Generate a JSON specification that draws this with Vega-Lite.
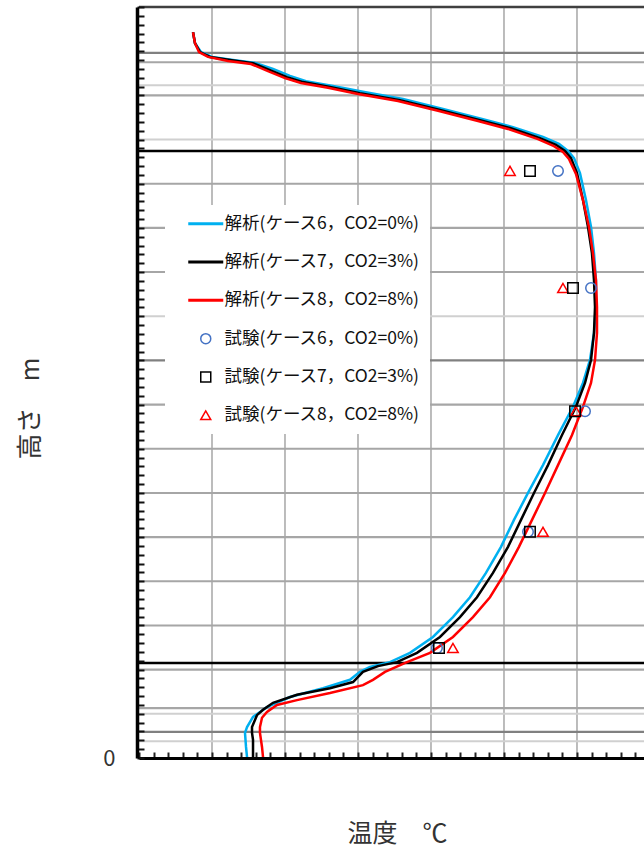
{
 "$schema": "https://vega.github.io/schema/vega-lite/v6.json",
 "width": 505, "height": 751,
 "autosize": {"type": "none"},
 "padding": {"left": 139, "top": 7, "right": 0, "bottom": 92},
 "background": "white",
 "config": {"font": "Noto Sans CJK JP", "view": {"stroke": null}},
 "datasets": {
  "vgrid": [{"t":100},{"t":200},{"t":300},{"t":400},{"t":500},{"t":600}],
  "hgrid": [
   {"h":17,"kind":"frame"},{"h":15.96,"kind":"dark"},{"h":15.75,"kind":"grid"},{"h":15.23,"kind":"light"},
   {"h":15,"kind":"grid"},{"h":14,"kind":"light"},{"h":13.74,"kind":"floor"},{"h":13,"kind":"grid"},
   {"h":12,"kind":"grid"},{"h":11,"kind":"grid"},{"h":10,"kind":"light"},{"h":9,"kind":"dark"},
   {"h":8,"kind":"grid"},{"h":7,"kind":"grid"},{"h":6,"kind":"grid"},{"h":5,"kind":"grid"},
   {"h":4,"kind":"grid"},{"h":3,"kind":"grid"},{"h":2.15,"kind":"floor"},{"h":2,"kind":"grid"},
   {"h":1.13,"kind":"grid"},{"h":1,"kind":"light"},{"h":0.59,"kind":"dark"},{"h":0.38,"kind":"light"}
  ],
  "lines": [
   {"s":"解析(ケース6，CO2=0%)","t":74.0,"h":16.43},{"s":"解析(ケース6，CO2=0%)","t":76.7,"h":16.18},{"s":"解析(ケース6，CO2=0%)","t":84.9,"h":15.98},{"s":"解析(ケース6，CO2=0%)","t":100.0,"h":15.87},{"s":"解析(ケース6，CO2=0%)","t":128.8,"h":15.80},{"s":"解析(ケース6，CO2=0%)","t":160.3,"h":15.73},{"s":"解析(ケース6，CO2=0%)","t":183.6,"h":15.60},{"s":"解析(ケース6，CO2=0%)","t":206.8,"h":15.44},{"s":"解析(ケース6，CO2=0%)","t":228.8,"h":15.32},{"s":"解析(ケース6，CO2=0%)","t":265.8,"h":15.21},{"s":"解析(ケース6，CO2=0%)","t":306.8,"h":15.08},{"s":"解析(ケース6，CO2=0%)","t":361.6,"h":14.92},{"s":"解析(ケース6，CO2=0%)","t":416.4,"h":14.69},{"s":"解析(ケース6，CO2=0%)","t":471.2,"h":14.46},{"s":"解析(ケース6，CO2=0%)","t":512.3,"h":14.28},{"s":"解析(ケース6，CO2=0%)","t":553.4,"h":14.06},{"s":"解析(ケース6，CO2=0%)","t":575.3,"h":13.90},{"s":"解析(ケース6，CO2=0%)","t":587.7,"h":13.74},{"s":"解析(ケース6，CO2=0%)","t":595.9,"h":13.58},{"s":"解析(ケース6，CO2=0%)","t":604.1,"h":13.24},{"s":"解析(ケース6，CO2=0%)","t":612.3,"h":12.63},{"s":"解析(ケース6，CO2=0%)","t":619.2,"h":12.02},{"s":"解析(ケース6，CO2=0%)","t":623.3,"h":11.43},{"s":"解析(ケース6，CO2=0%)","t":626.0,"h":10.82},{"s":"解析(ケース6，CO2=0%)","t":626.0,"h":10.21},{"s":"解析(ケース6，CO2=0%)","t":623.3,"h":9.62},{"s":"解析(ケース6，CO2=0%)","t":617.8,"h":9.01},{"s":"解析(ケース6，CO2=0%)","t":608.2,"h":8.49},{"s":"解析(ケース6，CO2=0%)","t":594.5,"h":7.95},{"s":"解析(ケース6，CO2=0%)","t":574.0,"h":7.31},{"s":"解析(ケース6，CO2=0%)","t":553.4,"h":6.63},{"s":"解析(ケース6，CO2=0%)","t":532.9,"h":6.00},{"s":"解析(ケース6，CO2=0%)","t":513.7,"h":5.39},{"s":"解析(ケース6，CO2=0%)","t":495.9,"h":4.78},{"s":"解析(ケース6，CO2=0%)","t":475.3,"h":4.19},{"s":"解析(ケース6，CO2=0%)","t":453.4,"h":3.64},{"s":"解析(ケース6，CO2=0%)","t":430.1,"h":3.19},{"s":"解析(ケース6，CO2=0%)","t":402.7,"h":2.74},{"s":"解析(ケース6，CO2=0%)","t":371.2,"h":2.38},{"s":"解析(ケース6，CO2=0%)","t":343.8,"h":2.17},{"s":"解析(ケース6，CO2=0%)","t":316.4,"h":2.06},{"s":"解析(ケース6，CO2=0%)","t":302.7,"h":1.95},{"s":"解析(ケース6，CO2=0%)","t":289.0,"h":1.77},{"s":"解析(ケース6，CO2=0%)","t":252.1,"h":1.58},{"s":"解析(ケース6，CO2=0%)","t":206.8,"h":1.38},{"s":"解析(ケース6，CO2=0%)","t":175.3,"h":1.15},{"s":"解析(ケース6，CO2=0%)","t":156.2,"h":0.93},{"s":"解析(ケース6，CO2=0%)","t":148.0,"h":0.70},{"s":"解析(ケース6，CO2=0%)","t":145.2,"h":0.57},{"s":"解析(ケース6，CO2=0%)","t":146.6,"h":0.25},{"s":"解析(ケース6，CO2=0%)","t":148.0,"h":0.02},
   {"s":"解析(ケース7，CO2=3%)","t":74.0,"h":16.43},{"s":"解析(ケース7，CO2=3%)","t":76.7,"h":16.18},{"s":"解析(ケース7，CO2=3%)","t":83.6,"h":15.98},{"s":"解析(ケース7，CO2=3%)","t":97.3,"h":15.87},{"s":"解析(ケース7，CO2=3%)","t":124.7,"h":15.80},{"s":"解析(ケース7，CO2=3%)","t":156.2,"h":15.73},{"s":"解析(ケース7，CO2=3%)","t":179.5,"h":15.57},{"s":"解析(ケース7，CO2=3%)","t":202.7,"h":15.41},{"s":"解析(ケース7，CO2=3%)","t":224.7,"h":15.30},{"s":"解析(ケース7，CO2=3%)","t":261.6,"h":15.19},{"s":"解析(ケース7，CO2=3%)","t":302.7,"h":15.05},{"s":"解析(ケース7，CO2=3%)","t":357.5,"h":14.89},{"s":"解析(ケース7，CO2=3%)","t":412.3,"h":14.67},{"s":"解析(ケース7，CO2=3%)","t":467.1,"h":14.44},{"s":"解析(ケース7，CO2=3%)","t":508.2,"h":14.26},{"s":"解析(ケース7，CO2=3%)","t":549.3,"h":14.03},{"s":"解析(ケース7，CO2=3%)","t":571.2,"h":13.88},{"s":"解析(ケース7，CO2=3%)","t":583.6,"h":13.74},{"s":"解析(ケース7，CO2=3%)","t":591.8,"h":13.58},{"s":"解析(ケース7，CO2=3%)","t":600.0,"h":13.24},{"s":"解析(ケース7，CO2=3%)","t":608.2,"h":12.63},{"s":"解析(ケース7，CO2=3%)","t":615.1,"h":12.02},{"s":"解析(ケース7，CO2=3%)","t":620.5,"h":11.43},{"s":"解析(ケース7，CO2=3%)","t":623.3,"h":10.82},{"s":"解析(ケース7，CO2=3%)","t":624.7,"h":10.21},{"s":"解析(ケース7，CO2=3%)","t":623.3,"h":9.62},{"s":"解析(ケース7，CO2=3%)","t":619.2,"h":9.01},{"s":"解析(ケース7，CO2=3%)","t":611.0,"h":8.49},{"s":"解析(ケース7，CO2=3%)","t":598.6,"h":7.95},{"s":"解析(ケース7，CO2=3%)","t":579.5,"h":7.31},{"s":"解析(ケース7，CO2=3%)","t":560.3,"h":6.63},{"s":"解析(ケース7，CO2=3%)","t":541.1,"h":6.00},{"s":"解析(ケース7，CO2=3%)","t":523.3,"h":5.39},{"s":"解析(ケース7，CO2=3%)","t":505.5,"h":4.78},{"s":"解析(ケース7，CO2=3%)","t":484.9,"h":4.19},{"s":"解析(ケース7，CO2=3%)","t":463.0,"h":3.64},{"s":"解析(ケース7，CO2=3%)","t":439.7,"h":3.19},{"s":"解析(ケース7，CO2=3%)","t":412.3,"h":2.74},{"s":"解析(ケース7，CO2=3%)","t":380.8,"h":2.38},{"s":"解析(ケース7，CO2=3%)","t":353.4,"h":2.17},{"s":"解析(ケース7，CO2=3%)","t":327.4,"h":2.08},{"s":"解析(ケース7，CO2=3%)","t":306.8,"h":1.95},{"s":"解析(ケース7，CO2=3%)","t":293.2,"h":1.72},{"s":"解析(ケース7，CO2=3%)","t":261.6,"h":1.58},{"s":"解析(ケース7，CO2=3%)","t":216.4,"h":1.43},{"s":"解析(ケース7，CO2=3%)","t":183.6,"h":1.25},{"s":"解析(ケース7，CO2=3%)","t":169.9,"h":1.09},{"s":"解析(ケース7，CO2=3%)","t":161.6,"h":0.97},{"s":"解析(ケース7，CO2=3%)","t":154.8,"h":0.70},{"s":"解析(ケース7，CO2=3%)","t":154.8,"h":0.57},{"s":"解析(ケース7，CO2=3%)","t":156.2,"h":0.41},{"s":"解析(ケース7，CO2=3%)","t":156.2,"h":0.02},
   {"s":"解析(ケース8，CO2=8%)","t":74.0,"h":16.43},{"s":"解析(ケース8，CO2=8%)","t":76.7,"h":16.18},{"s":"解析(ケース8，CO2=8%)","t":82.2,"h":15.98},{"s":"解析(ケース8，CO2=8%)","t":94.5,"h":15.87},{"s":"解析(ケース8，CO2=8%)","t":121.9,"h":15.78},{"s":"解析(ケース8，CO2=8%)","t":153.4,"h":15.71},{"s":"解析(ケース8，CO2=8%)","t":176.7,"h":15.55},{"s":"解析(ケース8，CO2=8%)","t":200.0,"h":15.39},{"s":"解析(ケース8，CO2=8%)","t":221.9,"h":15.28},{"s":"解析(ケース8，CO2=8%)","t":258.9,"h":15.17},{"s":"解析(ケース8，CO2=8%)","t":300.0,"h":15.03},{"s":"解析(ケース8，CO2=8%)","t":354.8,"h":14.87},{"s":"解析(ケース8，CO2=8%)","t":409.6,"h":14.65},{"s":"解析(ケース8，CO2=8%)","t":464.4,"h":14.42},{"s":"解析(ケース8，CO2=8%)","t":505.5,"h":14.24},{"s":"解析(ケース8，CO2=8%)","t":546.6,"h":14.01},{"s":"解析(ケース8，CO2=8%)","t":568.5,"h":13.85},{"s":"解析(ケース8，CO2=8%)","t":580.8,"h":13.72},{"s":"解析(ケース8，CO2=8%)","t":589.0,"h":13.56},{"s":"解析(ケース8，CO2=8%)","t":598.6,"h":13.22},{"s":"解析(ケース8，CO2=8%)","t":608.2,"h":12.63},{"s":"解析(ケース8，CO2=8%)","t":616.4,"h":12.02},{"s":"解析(ケース8，CO2=8%)","t":621.9,"h":11.43},{"s":"解析(ケース8，CO2=8%)","t":626.0,"h":10.82},{"s":"解析(ケース8，CO2=8%)","t":627.4,"h":10.21},{"s":"解析(ケース8，CO2=8%)","t":627.4,"h":9.62},{"s":"解析(ケース8，CO2=8%)","t":624.7,"h":9.01},{"s":"解析(ケース8，CO2=8%)","t":619.2,"h":8.49},{"s":"解析(ケース8，CO2=8%)","t":608.2,"h":7.95},{"s":"解析(ケース8，CO2=8%)","t":593.2,"h":7.31},{"s":"解析(ケース8，CO2=8%)","t":574.0,"h":6.63},{"s":"解析(ケース8，CO2=8%)","t":556.2,"h":6.00},{"s":"解析(ケース8，CO2=8%)","t":538.4,"h":5.39},{"s":"解析(ケース8，CO2=8%)","t":520.5,"h":4.78},{"s":"解析(ケース8，CO2=8%)","t":501.4,"h":4.19},{"s":"解析(ケース8，CO2=8%)","t":480.8,"h":3.64},{"s":"解析(ケース8，CO2=8%)","t":457.5,"h":3.19},{"s":"解析(ケース8，CO2=8%)","t":430.1,"h":2.74},{"s":"解析(ケース8，CO2=8%)","t":398.6,"h":2.38},{"s":"解析(ケース8，CO2=8%)","t":367.1,"h":2.17},{"s":"解析(ケース8，CO2=8%)","t":337.0,"h":1.95},{"s":"解析(ケース8，CO2=8%)","t":320.5,"h":1.77},{"s":"解析(ケース8，CO2=8%)","t":306.8,"h":1.65},{"s":"解析(ケース8，CO2=8%)","t":261.6,"h":1.47},{"s":"解析(ケース8，CO2=8%)","t":216.4,"h":1.31},{"s":"解析(ケース8，CO2=8%)","t":189.0,"h":1.20},{"s":"解析(ケース8，CO2=8%)","t":175.3,"h":1.04},{"s":"解析(ケース8，CO2=8%)","t":168.5,"h":0.91},{"s":"解析(ケース8，CO2=8%)","t":165.7,"h":0.70},{"s":"解析(ケース8，CO2=8%)","t":165.7,"h":0.57},{"s":"解析(ケース8，CO2=8%)","t":168.5,"h":0.25},{"s":"解析(ケース8，CO2=8%)","t":169.9,"h":0.02}
  ],
  "tests": [
   {"s":"試験(ケース6，CO2=0%)","t":574.0,"h":13.29},{"s":"試験(ケース6，CO2=0%)","t":619.2,"h":10.64},{"s":"試験(ケース6，CO2=0%)","t":611.0,"h":7.85},{"s":"試験(ケース6，CO2=0%)","t":532.9,"h":5.12},{"s":"試験(ケース6，CO2=0%)","t":408.2,"h":2.49},
   {"s":"試験(ケース8，CO2=8%)","t":508.2,"h":13.29},{"s":"試験(ケース8，CO2=8%)","t":580.8,"h":10.64},{"s":"試験(ケース8，CO2=8%)","t":598.6,"h":7.85},{"s":"試験(ケース8，CO2=8%)","t":553.4,"h":5.12},{"s":"試験(ケース8，CO2=8%)","t":430.1,"h":2.49},
   {"s":"試験(ケース7，CO2=3%)","t":535.6,"h":13.29},{"s":"試験(ケース7，CO2=3%)","t":594.5,"h":10.64},{"s":"試験(ケース7，CO2=3%)","t":597.3,"h":7.85},{"s":"試験(ケース7，CO2=3%)","t":535.6,"h":5.12},{"s":"試験(ケース7，CO2=3%)","t":411.0,"h":2.49}
  ]
 },
 "layer": [
  {
   "data": {"name": "vgrid"},
   "mark": {"type": "rule", "color": "#a6a6a6", "strokeWidth": 1.5},
   "encoding": {
    "x": {"field": "t", "type": "quantitative", "scale": {"domain": [0, 691.8], "nice": false, "zero": false},
     "axis": {"orient": "bottom", "tickCount": 500, "values": [0,20,40,60,80,100,120,140,160,180,200,220,240,260,280,300,320,340,360,380,400,420,440,460,480,500,520,540,560,580,600,620,640,660,680],
      "labels": false, "grid": false, "tickSize": -6, "tickWidth": 2, "tickColor": "#222", "domainColor": "#000", "domainWidth": 3,
      "title": "温度　℃", "titleFontSize": 25, "titleFontWeight": "normal", "titleColor": "#333", "titleX": 258, "titleY": 75, "titleAlign": "center", "titleBaseline": "middle", "zindex": 1}}
   }
  },
  {
   "data": {"name": "hgrid"},
   "mark": {"type": "rule"},
   "encoding": {
    "y": {"field": "h", "type": "quantitative", "scale": {"domain": [0, 17], "nice": false, "zero": false},
     "axis": {"orient": "left", "offset": 2, "tickCount": 500, "values": [0,0.2,0.4,0.6,0.8,1,1.2,1.4,1.6,1.8,2,2.2,2.4,2.6,2.8,3,3.2,3.4,3.6,3.8,4,4.2,4.4,4.6,4.8,5,5.2,5.4,5.6,5.8,6,6.2,6.4,6.6,6.8,7,7.2,7.4,7.6,7.8,8,8.2,8.4,8.6,8.8,9,9.2,9.4,9.6,9.8,10,10.2,10.4,10.6,10.8,11,11.2,11.4,11.6,11.8,12,12.2,12.4,12.6,12.8,13,13.2,13.4,13.6,13.8,14,14.2,14.4,14.6,14.8,15,15.2,15.4,15.6,15.8,16,16.2,16.4,16.6,16.8,17],
      "labelExpr": "datum.value == 0 ? '0' : ''", "labelFontSize": 22, "labelColor": "#333", "labelPadding": 29, "labelOverlap": false, "labelBaseline": "middle",
      "grid": false, "tickSize": -7, "tickWidth": 2, "tickColor": "#111", "domainColor": "#000", "domainWidth": 3.5,
      "title": "高さ　m", "titleFontSize": 26, "titleFontWeight": "normal", "titleColor": "#333", "titleAngle": -90, "titleX": -107, "titleY": 401, "titleAlign": "center", "titleBaseline": "middle", "zindex": 1}},
    "stroke": {"field": "kind", "type": "nominal", "scale": {"domain": ["frame","floor","dark","grid","light"], "range": ["#404040","#000000","#808080","#a6a6a6","#d0d0d0"]}, "legend": null},
    "strokeWidth": {"field": "kind", "type": "nominal", "scale": {"domain": ["frame","floor","dark","grid","light"], "range": [2.5, 2, 1.5, 1.5, 1.5]}, "legend": null}
   }
  },
  {
   "data": {"name": "lines"},
   "mark": {"type": "line", "strokeWidth": 2.5},
   "encoding": {
    "x": {"field": "t", "type": "quantitative"},
    "y": {"field": "h", "type": "quantitative"},
    "color": {"field": "s", "type": "nominal",
     "scale": {"domain": ["解析(ケース6，CO2=0%)","解析(ケース7，CO2=3%)","解析(ケース8，CO2=8%)","試験(ケース6，CO2=0%)","試験(ケース7，CO2=3%)","試験(ケース8，CO2=8%)"], "range": ["#00b0f0","#000000","#ff0000","#4472c4","#000000","#ff0000"]},
     "legend": {"title": null, "orient": "none", "legendX": 26, "legendY": 198, "padding": 10, "fillColor": "white", "strokeColor": null, "symbolSize": 100, "symbolOffset": 22, "labelOffset": 10, "rowPadding": 19.3, "labelFontSize": 17.5, "labelFont": "Noto Sans CJK JP", "labelColor": "#111", "labelLimit": 400,
      "encode": {"symbols": {"update": {"strokeWidth": {"signal": "datum.index < 3 ? 3 : 1.5"}}}}}},
    "order": {"field": "h", "type": "quantitative", "sort": "descending"}
   }
  },
  {
   "data": {"name": "tests"},
   "mark": {"type": "point", "filled": false, "size": 110, "strokeWidth": 1.5, "opacity": 1},
   "encoding": {
    "x": {"field": "t", "type": "quantitative"},
    "y": {"field": "h", "type": "quantitative"},
    "color": {"field": "s", "type": "nominal"},
    "shape": {"field": "s", "type": "nominal",
     "scale": {"domain": ["解析(ケース6，CO2=0%)","解析(ケース7，CO2=3%)","解析(ケース8，CO2=8%)","試験(ケース6，CO2=0%)","試験(ケース7，CO2=3%)","試験(ケース8，CO2=8%)"], "range": ["M-3.5,0L3.5,0","M-3.5,0L3.5,0","M-3.5,0L3.5,0","circle","square","triangle-up"]},
     "legend": {"title": null, "orient": "none", "legendX": 26, "legendY": 198, "padding": 10, "fillColor": "white", "strokeColor": null, "symbolSize": 100, "symbolOffset": 22, "labelOffset": 10, "rowPadding": 19.3, "labelFontSize": 17.5, "labelFont": "Noto Sans CJK JP", "labelColor": "#111", "labelLimit": 400}}
   }
  }
 ]
}
